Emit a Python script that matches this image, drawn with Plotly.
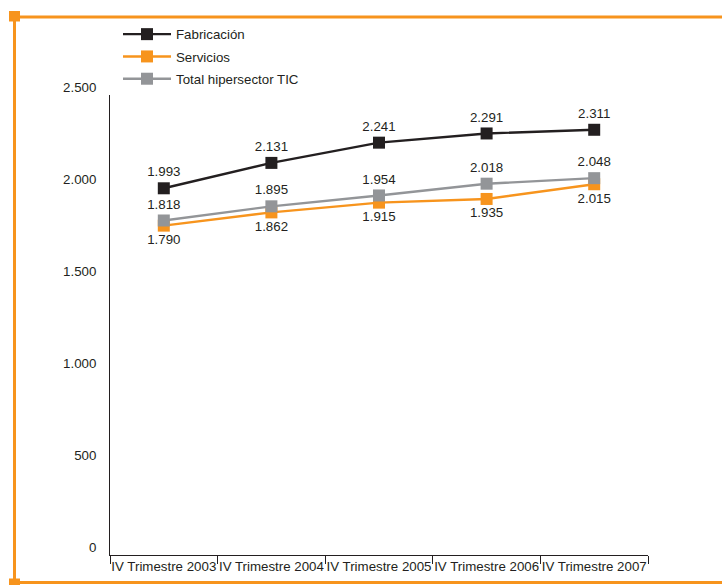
import plotly.graph_objects as go

# Data
periodos = ["IV Trimestre 2003", "IV Trimestre 2004", "IV Trimestre 2005",
            "IV Trimestre 2006", "IV Trimestre 2007"]
fabricacion = [1993, 2131, 2241, 2291, 2311]
servicios = [1790, 1862, 1915, 1935, 2015]
total_tic = [1818, 1895, 1954, 2018, 2048]
y_ticks = [0, 500, 1000, 1500, 2000, 2500]

NEGRO = "#231f20"
NARANJA = "#f7941d"
GRIS = "#939598"
FUENTE = "Liberation Sans, Arial, sans-serif"
TAM = 13.3

W, H = 722, 585
ML, MR, MT, MB = 110, 74, 95, 30
PW, PH = W - ML - MR, H - MT - MB


def px_x(x):
    return (x - ML) / PW


def px_y(y):
    return (H - MB - y) / PH


fig = go.Figure()

series = [
    ("Servicios", servicios, NARANJA, "bottom center", 2),
    ("Total hipersector TIC", total_tic, GRIS, "top center", 3),
    ("Fabricación", fabricacion, NEGRO, "top center", 1),
]
for nombre, valores, color, pos, rank in series:
    fig.add_trace(go.Scatter(
        x=periodos, y=valores, name=nombre, mode="lines+markers+text",
        line=dict(color=color, width=2.4),
        marker=dict(symbol="square", size=12, color=color),
        texttemplate="%{y:,}", textposition=pos,
        textfont=dict(family=FUENTE, size=TAM, color=NEGRO),
        legendrank=rank, legendgroup=nombre,
        cliponaxis=False,
    ))

# Orange page frame
shapes = [
    dict(type="line", xref="paper", yref="paper",
         x0=px_x(20), x1=px_x(722), y0=px_y(17), y1=px_y(17),
         line=dict(color=NARANJA, width=3)),
    dict(type="line", xref="paper", yref="paper",
         x0=px_x(14.5), x1=px_x(14.5), y0=px_y(17), y1=px_y(585),
         line=dict(color=NARANJA, width=3)),
    dict(type="line", xref="paper", yref="paper",
         x0=px_x(20), x1=px_x(722), y0=px_y(582.5), y1=px_y(582.5),
         line=dict(color=NARANJA, width=3)),
    dict(type="rect", xref="paper", yref="paper",
         x0=px_x(9), x1=px_x(20), y0=px_y(11), y1=px_y(21.5),
         fillcolor=NARANJA, line=dict(width=0)),
    dict(type="rect", xref="paper", yref="paper",
         x0=px_x(9), x1=px_x(20), y0=px_y(578.5), y1=px_y(590),
         fillcolor=NARANJA, line=dict(width=0)),
]

fig.update_layout(
    width=W, height=H,
    margin=dict(l=ML, r=MR, t=MT, b=MB, autoexpand=False),
    paper_bgcolor="white", plot_bgcolor="white",
    separators=",.",
    font=dict(family=FUENTE, size=TAM, color=NEGRO),
    showlegend=True,
    legend=dict(
        x=px_x(118), y=px_y(19), xanchor="left", yanchor="top",
        font=dict(family=FUENTE, size=TAM, color=NEGRO),
        tracegroupgap=2, itemwidth=48, bgcolor="rgba(0,0,0,0)",
    ),
    shapes=shapes,
)

fig.update_xaxes(
    type="category", range=[-0.5, 4.5],
    showline=True, linecolor=NEGRO, linewidth=1,
    ticks="outside", tickson="boundaries", ticklen=8, tickcolor=NEGRO, tickwidth=1,
    showgrid=False, zeroline=False, automargin=False, tickangle=0,
    tickfont=dict(family=FUENTE, size=TAM, color=NEGRO),
    ticklabelstandoff=-1,
)
fig.update_yaxes(
    range=[0, 2500], tickvals=y_ticks, tickformat=",d",
    showline=True, linecolor=NEGRO, linewidth=1,
    ticks="", showgrid=False, zeroline=False, automargin=False,
    tickfont=dict(family=FUENTE, size=TAM, color=NEGRO),
    ticklabelstandoff=10, ticklabelshift=-8,
)

fig.write_html("out.html")
